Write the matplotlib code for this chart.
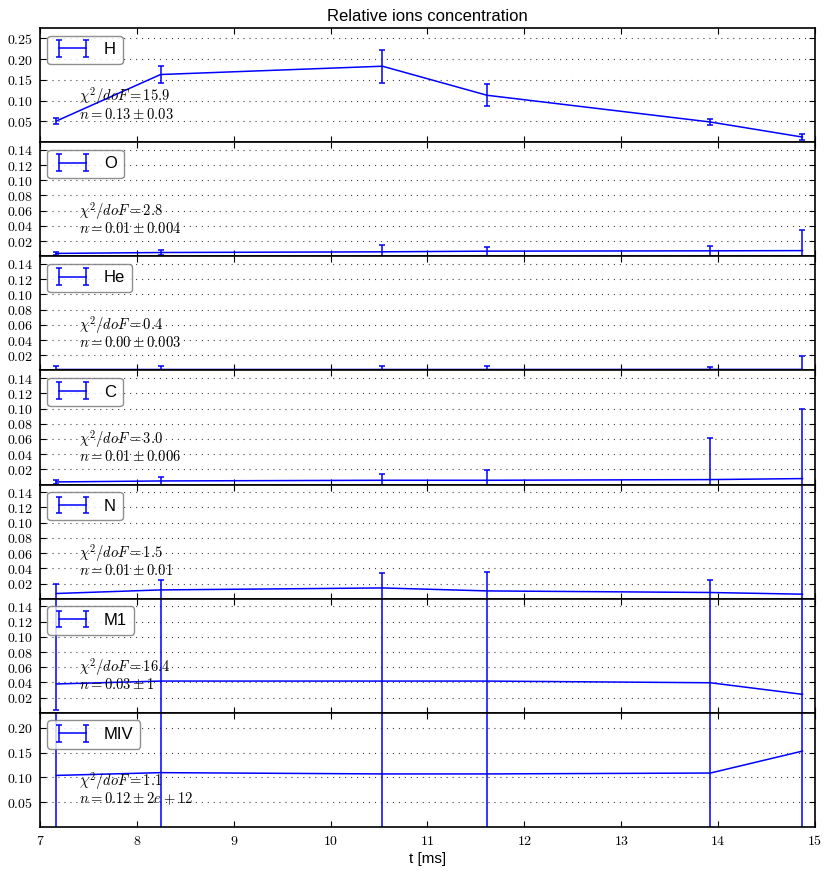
import matplotlib
matplotlib.use('Agg')
import matplotlib.pyplot as plt
from matplotlib.ticker import FuncFormatter, FixedLocator

# ---- data ----
t = [7.17, 8.245, 10.535, 11.615, 13.92, 14.87]
species = ['H', 'O', 'He', 'C', 'N', 'M1', 'MIV']

H_val = [0.051, 0.163, 0.183, 0.113, 0.0486, 0.0123]
H_err = [0.0065, 0.021, 0.040, 0.027, 0.0076, 0.0076]
O_val = [0.0038, 0.0050, 0.0059, 0.0068, 0.0072, 0.0075]
O_err = [0.0020, 0.0035, 0.0084, 0.0059, 0.0064, 0.027]
He_val = [0.0013, 0.0013, 0.0013, 0.0013, 0.0014, 0.0014]
He_err = [0.0050, 0.0050, 0.0050, 0.0052, 0.0032, 0.0175]
C_val = [0.0035, 0.0048, 0.0057, 0.0057, 0.0066, 0.0079]
C_err = [0.0026, 0.0057, 0.0083, 0.0139, 0.0543, 0.091]
N_val = [0.0069, 0.0116, 0.0142, 0.0103, 0.0082, 0.0060]
N_err = [0.013, 0.0136, 0.020, 0.025, 0.016, 1.0]
M1_val = [0.038, 0.0418, 0.0418, 0.0418, 0.0396, 0.0244]
M1_err_lo = [0.034, 1.0, 1.0, 1.0, 1.0, 1.0]
M1_err_hi = [1.0, 1.0, 1.0, 1.0, 1.0, 1.0]
MIV_val = [0.104, 0.1096, 0.107, 0.107, 0.1088, 0.153]
MIV_err = [1.0, 1.0, 1.0, 1.0, 1.0, 1.0]

chi2 = ['15.9', '2.8', '0.4', '3.0', '1.5', '16.4', '1.1']
n_txt = ['0.13 \\pm 0.03', '0.01 \\pm 0.004', '0.00 \\pm 0.003',
         '0.01 \\pm 0.006', '0.01 \\pm 0.01', '0.03 \\pm 1', '0.12 \\pm 2e+12']

ylims = [0.275, 0.15, 0.15, 0.15, 0.15, 0.15, 0.23]
yticks = [[0.05, 0.10, 0.15, 0.20, 0.25]] + [[0.02, 0.04, 0.06, 0.08, 0.10, 0.12, 0.14]] * 5 + \
         [[0.05, 0.10, 0.15, 0.20]]
xticks = [7, 8, 9, 10, 11, 12, 13, 14, 15]

values = [H_val, O_val, He_val, C_val, N_val, M1_val, MIV_val]
errors = [H_err, O_err, He_err, C_err, N_err, [M1_err_lo, M1_err_hi], MIV_err]

plt.rcParams['font.family'] = ['Liberation Sans', 'DejaVu Sans']
plt.rcParams['mathtext.fontset'] = 'cm'
plt.rcParams['lines.scale_dashes'] = False

fig, axes = plt.subplots(7, 1, sharex=True, figsize=(8.32, 8.76), dpi=100)
fig.subplots_adjust(left=0.048, right=0.9796, top=0.968, bottom=0.0559, hspace=0)

fmt = FuncFormatter(lambda v, p: '$%.2f$' % v)
xfmt = FuncFormatter(lambda v, p: '$%d$' % v)

for i, ax in enumerate(axes):
    ax.errorbar(t, values[i], yerr=errors[i], fmt='-', color='#0000ff', lw=1.1,
                elinewidth=1.1, capsize=2.4, capthick=1.1, label=species[i])
    ax.set_xlim(7, 15)
    ax.set_ylim(0, ylims[i])
    ax.yaxis.set_major_locator(FixedLocator(yticks[i]))
    ax.yaxis.set_major_formatter(fmt)
    ax.xaxis.set_major_locator(FixedLocator(xticks))
    ax.xaxis.set_major_formatter(xfmt)
    ax.grid(axis='y', color='0.25', linestyle=(0, (0.8, 3.5)), lw=0.8)
    ax.tick_params(direction='in', top=True, right=True, length=4.5, width=0.8,
                   labelsize=10, pad=5)
    for s in ax.spines.values():
        s.set_linewidth(1.2)
    leg = ax.legend(loc='upper left', numpoints=2, fancybox=True, framealpha=0.8,
                    fontsize=12, borderaxespad=0.45, handlelength=2.2)
    leg.get_frame().set_edgecolor('0.45')
    leg.get_frame().set_linewidth(1.0)
    ax.text(0.05, 0.40, '$\\chi^2/doF = %s$' % chi2[i], transform=ax.transAxes,
            va='center', ha='left', fontsize=10.5)
    ax.text(0.05, 0.245, '$n = %s$' % n_txt[i], transform=ax.transAxes,
            va='center', ha='left', fontsize=10.5)

axes[0].set_title('Relative ions concentration', fontsize=12, pad=5)
axes[-1].set_xlabel('t [ms]', fontsize=11, labelpad=3)

fig.savefig('out.png', dpi=100)
